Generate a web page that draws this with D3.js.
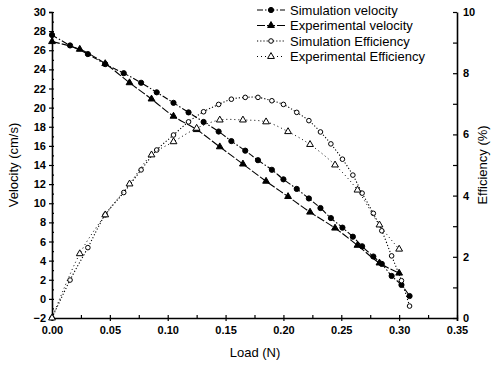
<!DOCTYPE html>
<html>
<head>
<meta charset="utf-8">
<script src="https://cdn.jsdelivr.net/npm/d3@7"></script>
<style>
  body { margin: 0; background: #fff; }
  svg { font-family: "Liberation Sans", Arial, sans-serif; }
</style>
</head>
<body>
<div id="chart"></div>
<script>
// simulation points (shared load values)
var simLoad = [0, 0.0156, 0.031, 0.046, 0.062, 0.077, 0.0905, 0.105, 0.118, 0.131, 0.144, 0.155, 0.167, 0.178,
  0.190, 0.200, 0.2115, 0.222, 0.232, 0.241, 0.251, 0.260, 0.268, 0.2777, 0.285, 0.2935, 0.302, 0.309];
var simVel = [27.6, 26.5, 25.6, 24.55, 23.6, 22.6, 21.6, 20.5, 19.5, 18.5, 17.5, 16.5, 15.5, 14.5,
  13.5, 12.5, 11.5, 10.5, 9.5, 8.45, 7.45, 6.5, 5.5, 4.43, 3.66, 2.4, 1.46, 0.3];
var simEff = [0, 1.24, 2.3, 3.37, 4.1, 4.84, 5.49, 5.98, 6.41, 6.74, 6.98, 7.15, 7.21, 7.21,
  7.1, 6.98, 6.72, 6.45, 6.08, 5.69, 5.19, 4.67, 4.08, 3.42, 2.85, 2.03, 1.22, 0.39];
// experimental points
var expLoad = [0, 0.024, 0.046, 0.067, 0.086, 0.105, 0.125, 0.145, 0.165, 0.185, 0.204, 0.223, 0.2446, 0.264, 0.283, 0.300];
var expVel = [26.9, 26.1, 24.6, 22.6, 20.9, 19.1, 17.7, 15.9, 14.1, 12.3, 10.7, 9.07, 7.4, 5.6, 3.75, 2.69];
var expEff = [0, 2.1, 3.37, 4.38, 5.33, 5.76, 6.2, 6.47, 6.47, 6.41, 6.09, 5.67, 5.0, 4.18, 3.04, 2.25];

var xTicks = [0, 0.05, 0.10, 0.15, 0.20, 0.25, 0.30, 0.35];
var velTicks = [-2, 0, 2, 4, 6, 8, 10, 12, 14, 16, 18, 20, 22, 24, 26, 28, 30];
var effTicks = [0, 2, 4, 6, 8, 10];
var legendNames = ['Simulation velocity', 'Experimental velocity', 'Simulation Efficiency', 'Experimental Efficiency'];

var W = 493, H = 366;
var svg = d3.select('#chart').append('svg').attr('width', W).attr('height', H);

var x = d3.scaleLinear().domain([0, 0.35]).range([52, 457]);
var yV = d3.scaleLinear().domain([-2, 30]).range([318, 12]);
var yE = d3.scaleLinear().domain([0, 10]).range([318, 12]);

// axes
var bottom = svg.append('g').attr('transform', 'translate(0,318)')
  .call(d3.axisBottom(x).tickValues(xTicks).tickFormat(d3.format('.2f')).tickSize(3).tickPadding(5));
var bottomMinor = svg.append('g').attr('transform', 'translate(0,318)')
  .call(d3.axisTop(x).tickValues(d3.range(0, 0.36, 0.025)).tickFormat('').tickSize(3));
var left = svg.append('g').attr('transform', 'translate(52,0)')
  .call(d3.axisLeft(yV).tickValues(velTicks).tickSize(3).tickPadding(3));
var leftMinor = svg.append('g').attr('transform', 'translate(52,0)')
  .call(d3.axisRight(yV).tickValues(d3.range(-2, 31, 1)).tickFormat('').tickSize(2));
var right = svg.append('g').attr('transform', 'translate(457,0)')
  .call(d3.axisRight(yE).tickValues(effTicks).tickSize(0).tickPadding(6));
var rightTicks = svg.append('g').attr('transform', 'translate(457,0)')
  .call(d3.axisLeft(yE).tickValues(d3.range(0, 11, 1)).tickFormat('').tickSize(4));

[bottom, bottomMinor, left, leftMinor, right, rightTicks].forEach(function(g){
  g.selectAll('path').attr('stroke', '#000').attr('stroke-width', 1.6);
  g.selectAll('line').attr('stroke', '#000').attr('stroke-width', 1.2);
  g.selectAll('text').attr('fill', '#000').style('font-size', '11px').style('font-weight', 'bold');
});
bottomMinor.selectAll('path').remove();
leftMinor.selectAll('path').remove();
rightTicks.selectAll('path').remove();

// axis titles
svg.append('text').attr('x', 255).attr('y', 357).attr('text-anchor', 'middle')
  .style('font-size', '13px').text('Load (N)');
svg.append('text').attr('transform', 'translate(18,165) rotate(-90)').attr('text-anchor', 'middle')
  .style('font-size', '13px').text('Velocity (cm/s)');
svg.append('text').attr('transform', 'translate(487,165) rotate(-90)').attr('text-anchor', 'middle')
  .style('font-size', '13px').text('Efficiency (%)');

var simV = simLoad.map(function(d, i){ return [d, simVel[i]]; });
var simE = simLoad.map(function(d, i){ return [d, simEff[i]]; });
var expV = expLoad.map(function(d, i){ return [d, expVel[i]]; });
var expE = expLoad.map(function(d, i){ return [d, expEff[i]]; });

var series = [
  {data: simV, y: yV, dash: '6,2,1.5,2', width: 1.1, marker: 'circle', fill: '#000'},
  {data: expV, y: yV, dash: '8,2', width: 1.1, marker: 'triangle', fill: '#000'},
  {data: simE, y: yE, dash: '1.2,2', width: 1.1, marker: 'circle', fill: '#fff'},
  {data: expE, y: yE, dash: '1,3', width: 1, marker: 'triangle', fill: '#fff'}
];

var tri = d3.symbol().type(d3.symbolTriangle).size(20);

var drawMarker = function(g, s, cx, cy){
  if(s.marker == 'circle'){
    g.append('circle').attr('cx', cx).attr('cy', cy).attr('r', s.fill == '#000' ? 2.6 : 2.3)
      .attr('fill', s.fill).attr('stroke', '#000').attr('stroke-width', 1);
  } else {
    g.append('path').attr('d', tri).attr('transform', 'translate(' + cx + ',' + cy + ')')
      .attr('fill', s.fill).attr('stroke', '#000').attr('stroke-width', 1);
  }
}

series.forEach(function(s){
  var line = d3.line().curve(d3.curveCatmullRom)
    .x(function(d){ return x(d[0]); })
    .y(function(d){ return s.y(d[1]); });
  svg.append('path').datum(s.data).attr('d', line).attr('fill', 'none')
    .attr('stroke', '#000').attr('stroke-width', s.width).attr('stroke-dasharray', s.dash);
  var g = svg.append('g');
  s.data.forEach(function(d){ drawMarker(g, s, x(d[0]), s.y(d[1])); });
});

// legend
var leg = svg.append('g');
legendNames.forEach(function(name, i){
  var s = series[i];
  var ly = 10 + i * 15.5;
  leg.append('line').attr('x1', 257).attr('x2', 285).attr('y1', ly).attr('y2', ly)
    .attr('stroke', '#000').attr('stroke-width', s.width).attr('stroke-dasharray', s.dash);
  drawMarker(leg, s, 271, ly);
  leg.append('text').attr('x', 290).attr('y', ly + 4.5).style('font-size', '13px').text(name);
});
</script>
</body>
</html>
